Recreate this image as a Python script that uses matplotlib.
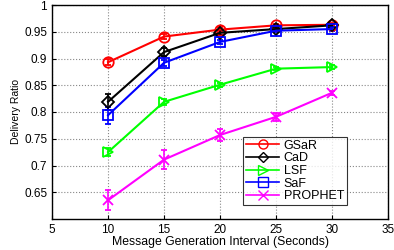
import numpy as np
import matplotlib
matplotlib.use("Agg")
import matplotlib.pyplot as plt
from matplotlib.lines import Line2D

x = [10, 15, 20, 25, 30]

gsar = [0.893, 0.941, 0.954, 0.962, 0.963]
gsar_err = [0.006, 0.005, 0.004, 0.003, 0.003]
cad = [0.819, 0.912, 0.948, 0.955, 0.962]
cad_err = [0.015, 0.008, 0.005, 0.004, 0.003]
lsf = [0.725, 0.819, 0.851, 0.881, 0.884]
lsf_err = [0.008, 0.006, 0.004, 0.003, 0.003]
saf = [0.794, 0.892, 0.931, 0.952, 0.955]
saf_err = [0.016, 0.006, 0.004, 0.003, 0.003]
prophet = [0.635, 0.711, 0.757, 0.791, 0.836]
prophet_err = [0.019, 0.018, 0.012, 0.007, 0.004]

plt.rcParams['font.family'] = ['Liberation Sans', 'DejaVu Sans']

fig = plt.figure(figsize=(3.94, 2.5), dpi=100)
ax = fig.add_axes([0.132, 0.124, 0.853, 0.856])

series = [
    ("GSaR", gsar, gsar_err, "#ff0000", "o"),
    ("CaD", cad, cad_err, "#000000", "D"),
    ("LSF", lsf, lsf_err, "#00ff00", ">"),
    ("SaF", saf, saf_err, "#0000ff", "s"),
    ("PROPHET", prophet, prophet_err, "#ff00ff", "x"),
]
handles = []
for name, y, err, c, m in series:
    ms = 6 if m == "D" else 7.5
    ax.errorbar(x, y, yerr=err, color=c, marker=m, markersize=ms,
                markerfacecolor="none", markeredgecolor=c, markeredgewidth=1.3,
                linewidth=1.5, capsize=2, elinewidth=1.2)
    handles.append(Line2D([], [], color=c, marker=m, markersize=ms - 1,
                          markerfacecolor="none", markeredgewidth=1.0,
                          linewidth=1.2, label=name))

ax.set_xlim(5, 35)
ax.set_ylim(0.6, 1.0)
ax.set_xticks([5, 10, 15, 20, 25, 30, 35])
ax.set_yticks([0.65, 0.7, 0.75, 0.8, 0.85, 0.9, 0.95, 1.0])
ax.set_yticklabels(["0.65", "0.7", "0.75", "0.8", "0.85", "0.9", "0.95", "1"])
ax.tick_params(labelsize=8.5, direction="in", length=3)
ax.grid(True, linestyle=":", color="#888888", linewidth=0.8)
for s in ax.spines.values():
    s.set_linewidth(1.0)

ax.set_xlabel("Message Generation Interval (Seconds)", fontsize=8.8, labelpad=0)
ax.set_ylabel("Delivery Ratio", fontsize=7.5, labelpad=2)

leg = ax.legend(handles=handles, loc="upper left", bbox_to_anchor=(0.569, 0.385),
                fontsize=9, frameon=True, fancybox=False, edgecolor="black",
                handlelength=2.6, borderpad=0.25, labelspacing=0.05,
                handletextpad=0.4, borderaxespad=0)
leg.get_frame().set_linewidth(0.8)

fig.savefig("out.png", dpi=100)
